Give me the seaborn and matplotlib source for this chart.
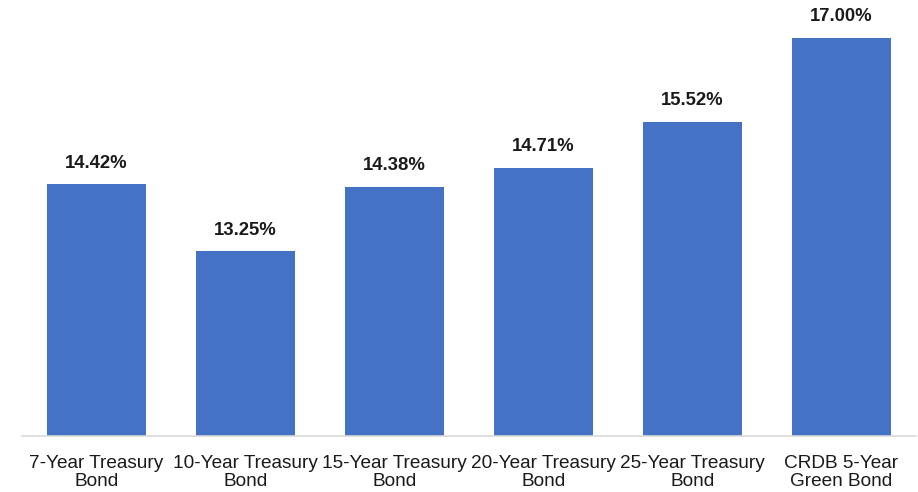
import numpy as np
import pandas as pd
import matplotlib
matplotlib.use('Agg')
import matplotlib.pyplot as plt
import seaborn as sns

bonds = ['7-Year Treasury\nBond', '10-Year Treasury\nBond', '15-Year Treasury\nBond',
         '20-Year Treasury\nBond', '25-Year Treasury\nBond', 'CRDB 5-Year\nGreen Bond']
yields = [14.42, 13.25, 14.38, 14.71, 15.52, 17.00]

sns.set_style('white')
plt.rcParams['font.family'] = ['Liberation Sans', 'DejaVu Sans']

df = pd.DataFrame({'bond': bonds, 'yield': yields})

fig = plt.figure(figsize=(9.18, 4.92), dpi=100)
ax = fig.add_axes([22 / 918, 56 / 492, 894 / 918, 436 / 492])
sns.barplot(data=df, x='bond', y='yield', color='#4472C4', saturation=1,
            width=0.66, linewidth=0, ax=ax)

for i, v in enumerate(yields):
    ax.annotate(f'{v:.2f}%', (i, v), xytext=(0, 9), textcoords='offset points',
                ha='center', va='bottom', fontsize=13.3, fontweight='bold', color='#1a1a1a')

ax.set_ylim(10, 17.66)
ax.set_xlim(-0.5, 5.5)
ax.set_xlabel('')
ax.set_ylabel('')
ax.set_yticks([])
for s in ['top', 'right', 'left']:
    ax.spines[s].set_visible(False)
ax.spines['bottom'].set_color('#d9d9d9')
ax.spines['bottom'].set_linewidth(1.2)
ax.tick_params(axis='x', length=0, pad=14, labelsize=13.7, colors='#1a1a1a')
for t in ax.get_xticklabels():
    t.set_linespacing(1.08)

fig.savefig('out.png', dpi=100)
